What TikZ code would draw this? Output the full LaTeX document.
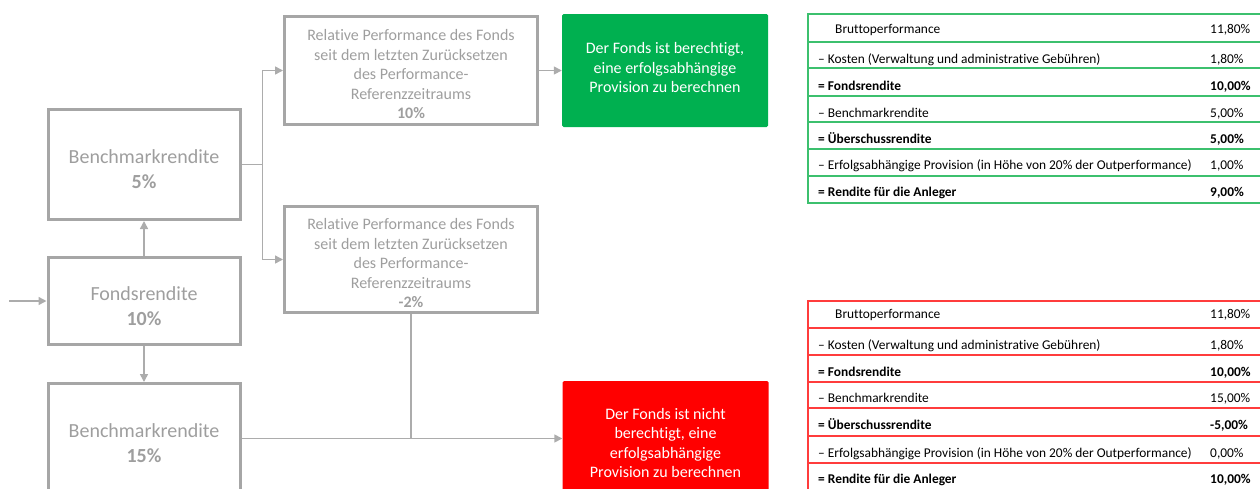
\documentclass[tikz,border=0pt]{standalone}
\usepackage{fontspec}
\setmainfont{Carlito}[Ligatures={TeX,NoCommon}]
\usepackage{tikz}
\usetikzlibrary{arrows.meta}
\definecolor{fgray}{RGB}{166,166,166}
\definecolor{ftext}{RGB}{158,158,158}
\definecolor{fline}{RGB}{172,172,172}
\definecolor{fgreen}{RGB}{0,176,80}
\definecolor{fred}{RGB}{255,0,0}
\definecolor{tgreen}{RGB}{60,192,110}
\definecolor{tred}{RGB}{255,60,60}

\begin{document}
\begin{tikzpicture}[x=1pt,y=-1pt,
  graybox/.style={draw=fgray,line width=3pt,text=ftext,align=center,inner sep=2pt},
  leftbox/.style={graybox,minimum width=192pt,text height=49pt,font=\fontsize{20}{25}\selectfont},
  relbox/.style={graybox,minimum width=253pt,text height=97pt,font=\fontsize{16}{19.5}\selectfont},
  resultbox/.style={text=white,align=center,rounded corners=1.5pt,minimum width=206pt,font=\fontsize{16}{19.5}\selectfont},
  conn/.style={draw=fline,line width=1.5pt},
  arr/.style={conn,-{Triangle[length=8pt,width=8pt]}},
  cell/.style={anchor=base west,inner sep=0pt,font=\fontsize{13.4}{15}\selectfont}]
\useasboundingbox (0,0) rectangle (1260,488);

% Left column
\node[leftbox,minimum height=110pt] (bench5) at (144,164.5) {Benchmarkrendite\\\textbf{5\%}};
\node[leftbox,minimum height=87pt] (fonds) at (144,301) {Fondsrendite\\\textbf{10\%}};
\node[leftbox,minimum height=110pt] (bench15) at (144,438.5) {Benchmarkrendite\\\textbf{15\%}};

% Relative performance
\node[relbox,minimum height=108pt] (rel10) at (411,70.5) {Relative Performance des Fonds\\seit dem letzten Zurücksetzen\\des Performance-\\Referenzzeitraums\\\textbf{10\%}};
\node[relbox,minimum height=106pt] (relm2) at (411,259.5) {Relative Performance des Fonds\\seit dem letzten Zurücksetzen\\des Performance-\\Referenzzeitraums\\\textbf{-2\%}};

% Results
\node[resultbox,fill=fgreen,minimum height=113pt,text depth=6pt] (ok) at (665,70.5) {Der Fonds ist berechtigt,\\eine erfolgsabhängige\\Provision zu berechnen};
\node[resultbox,fill=fred,minimum height=124pt] (notok) at (665.5,443) {Der Fonds ist nicht\\berechtigt, eine\\erfolgsabhängige\\Provision zu berechnen};

% Connectors
\coordinate (start) at (9,301);
\draw[arr] (start) -- (fonds.west);
\draw[arr] (fonds.north) -- (bench5.south);
\draw[arr] (fonds.south) -- (bench15.north);
\draw[arr] (bench5.east) -- ++(21,0) |- (rel10.west);
\draw[arr] (bench5.east) -- ++(21,0) |- (relm2.west);
\draw[arr] (rel10.east) -- (ok.west);
\draw[arr] (bench15.east) -- (bench15.east -| notok.west);
\draw[conn] (relm2.south) -- (relm2.south |- bench15.east);

% Table green
\draw[tgreen,line width=2pt] (808,14) -- (808,203);
\draw[tgreen,line width=2pt] (807,14) -- (1262,14) (807,42) -- (1262,42) (807,68) -- (1262,68)
  (807,96) -- (1262,96) (807,122) -- (1262,122) (807,149) -- (1262,149) (807,176) -- (1262,176)
  (807,203) -- (1262,203);
\node[cell] (g1) at (835,33) {Bruttoperformance};
\node[cell] (g2) at (818,63) {– Kosten (Verwaltung und administrative Gebühren)};
\node[cell] (g3) at (818,90) {\textbf{= Fondsrendite}};
\node[cell] (g4) at (818,117) {– Benchmarkrendite};
\node[cell] (g5) at (818,143) {\textbf{= Überschussrendite}};
\node[cell] (g6) at (818,169) {– Erfolgsabhängige Provision (in Höhe von 20\% der Outperformance)};
\node[cell] (g7) at (818,196) {\textbf{= Rendite für die Anleger}};
\node[cell] (gv1) at (1210,33) {11,80\%};
\node[cell] (gv2) at (1210,63) {1,80\%};
\node[cell] (gv3) at (1210,90) {\textbf{10,00\%}};
\node[cell] (gv4) at (1210,117) {5,00\%};
\node[cell] (gv5) at (1210,143) {\textbf{5,00\%}};
\node[cell] (gv6) at (1210,169) {1,00\%};
\node[cell] (gv7) at (1210,196) {\textbf{9,00\%}};

% Table red
\draw[tred,line width=2pt] (808,301) -- (808,490);
\draw[tred,line width=2pt] (807,301) -- (1262,301) (807,328) -- (1262,328) (807,355) -- (1262,355)
  (807,382) -- (1262,382) (807,408) -- (1262,408) (807,436) -- (1262,436) (807,463) -- (1262,463);
\node[cell] (r1) at (835,318) {Bruttoperformance};
\node[cell] (r2) at (818,349) {– Kosten (Verwaltung und administrative Gebühren)};
\node[cell] (r3) at (818,376) {\textbf{= Fondsrendite}};
\node[cell] (r4) at (818,402) {– Benchmarkrendite};
\node[cell] (r5) at (818,429) {\textbf{= Überschussrendite}};
\node[cell] (r6) at (818,457) {– Erfolgsabhängige Provision (in Höhe von 20\% der Outperformance)};
\node[cell] (r7) at (818,483) {\textbf{= Rendite für die Anleger}};
\node[cell] (rv1) at (1210,318) {11,80\%};
\node[cell] (rv2) at (1210,349) {1,80\%};
\node[cell] (rv3) at (1210,376) {\textbf{10,00\%}};
\node[cell] (rv4) at (1210,402) {15,00\%};
\node[cell] (rv5) at (1210,429) {\textbf{-5,00\%}};
\node[cell] (rv6) at (1210,457) {0,00\%};
\node[cell] (rv7) at (1210,483) {\textbf{10,00\%}};
\end{tikzpicture}
\end{document}
